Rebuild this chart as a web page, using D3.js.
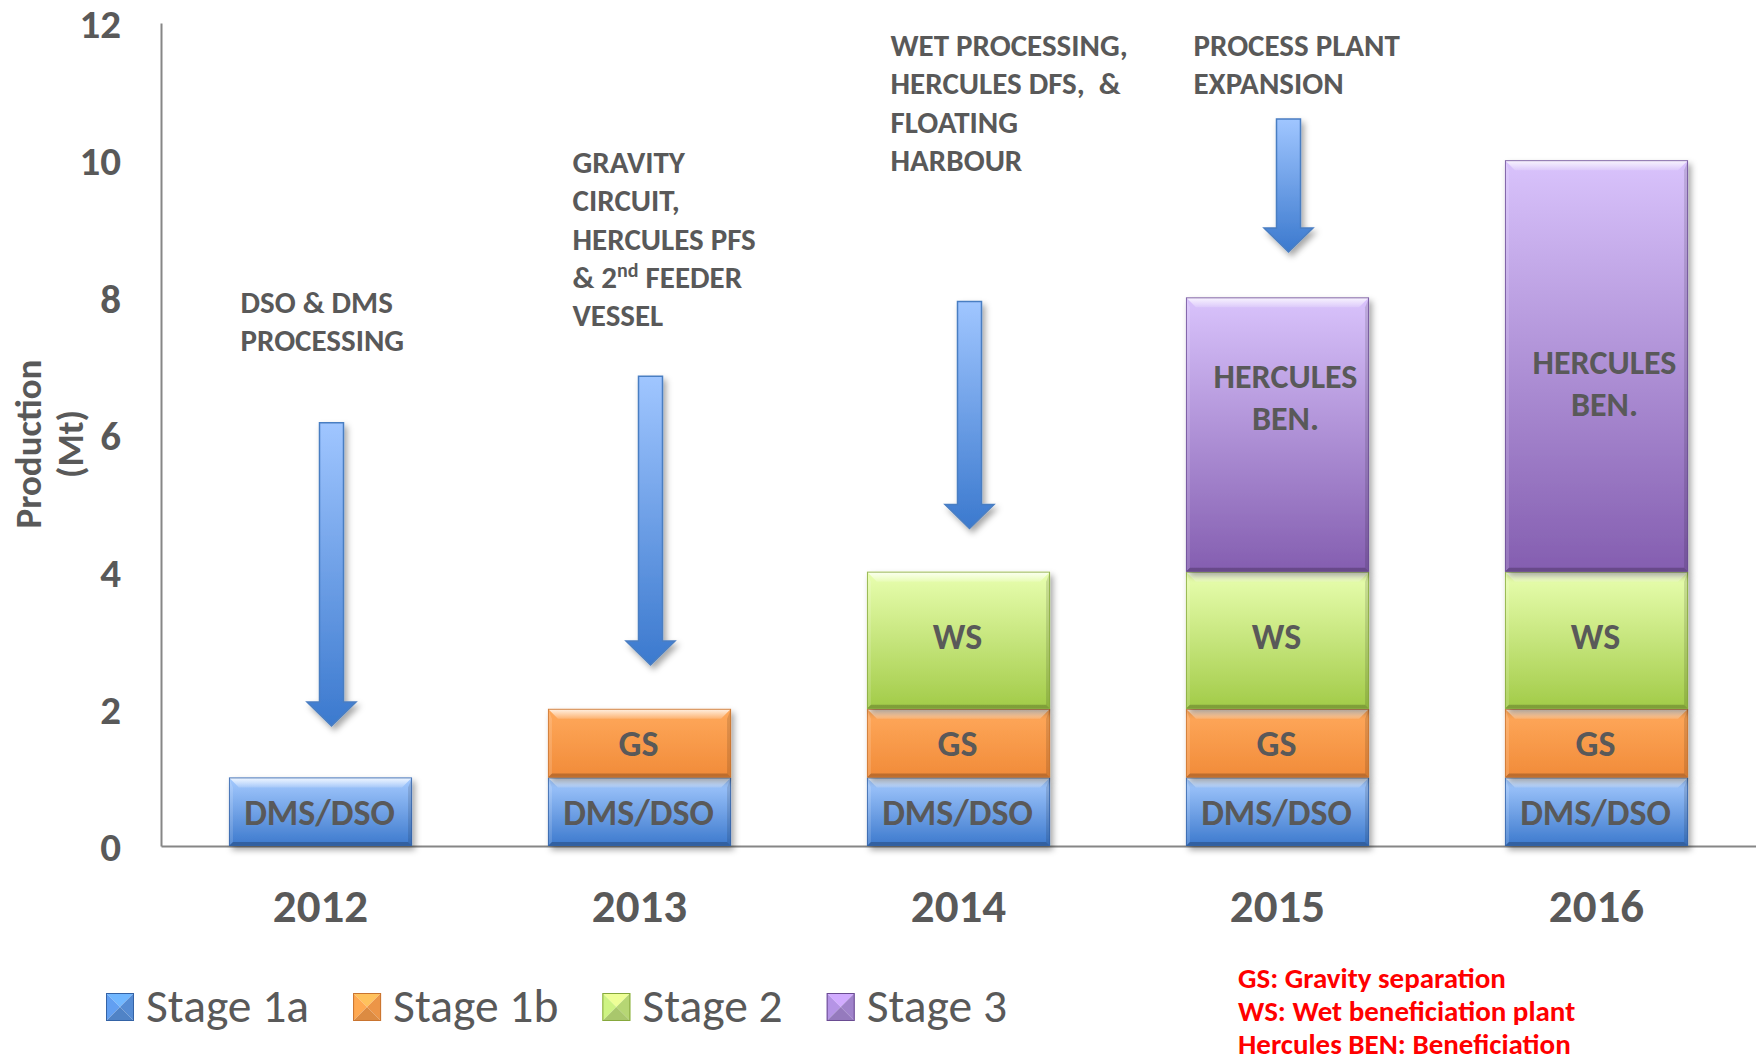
<!DOCTYPE html>
<html><head><meta charset="utf-8">
<script src="https://cdn.jsdelivr.net/npm/d3@7"></script>
<style>
html,body{margin:0;padding:0;background:#fff;}
svg{display:block;}
text{font-family: Carlito, Calibri, Lato, sans-serif; white-space: pre;}
</style></head><body>
<svg id="chart" width="1756" height="1063"></svg>
<script>
// ---------------- data ----------------
const years = ["2012", "2013", "2014", "2015", "2016"];
const seriesNames = ["Stage 1a", "Stage 1b", "Stage 2", "Stage 3"];
const stage1a = [1, 1, 1, 1, 1];
const stage1b = [0, 1, 1, 1, 1];
const stage2 = [0, 0, 2, 2, 2];
const stage3 = [0, 0, 0, 4, 6];
const segmentLabels = ["DMS/DSO", "GS", "WS", "HERCULES BEN."];
const yTicks = [0, 2, 4, 6, 8, 10, 12];
const yTitle = ["Production", "(Mt)"];

const annotationYears = ["2012", "2013", "2014", "2015"];
const annotationLines = [
  ["DSO & DMS", "PROCESSING"],
  ["GRAVITY", "CIRCUIT,", "HERCULES PFS", "& 2{nd} FEEDER", "VESSEL"],
  ["WET PROCESSING,", "HERCULES DFS,  &", "FLOATING", "HARBOUR"],
  ["PROCESS PLANT", "EXPANSION"]
];
const annotationTopValue = [7.77, 9.81, 11.52, 11.52];
const arrowFrom = [6.17, 6.85, 7.94, 10.6];
const arrowTo = [1.75, 2.64, 4.63, 8.66];
const stage3LabelValue = [null, null, null, 6.55, 6.75];
const noteLines = ["GS: Gravity separation", "WS: Wet beneficiation plant", "Hercules BEN: Beneficiation"];

// ---------------- layout / style ----------------
const plot = {left: 161, right: 1756, top: 23, bottom: 846};
const textGrey = "#595959";
const FONT = "Carlito, Calibri, Lato, sans-serif";
const palette = {
  "Stage 1a": {top: "#A6CBFF", bottom: "#3C79CD", border: "#3463A6", base: "#5B94E0"},
  "Stage 1b": {top: "#FFA95C", bottom: "#F18B39", border: "#C9742F", base: "#F99D4B"},
  "Stage 2":  {top: "#E9FFB0", bottom: "#A2CB48", border: "#86A83C", base: "#C0E27A"},
  "Stage 3":  {top: "#D9C3FC", bottom: "#845EB0", border: "#6A4C92", base: "#A98AD6"}
};
const annotationDx = [-80, -67, -68, -84];
const annotationLineH = 38.3;
const arrowDx = 11;

const svg = d3.select("#chart");
const defs = svg.append("defs");

seriesNames.forEach((s, i) => {
  const g = defs.append("linearGradient").attr("id", "grad" + i)
    .attr("x1", 0).attr("y1", 0).attr("x2", 0).attr("y2", 1);
  g.append("stop").attr("offset", "0%").attr("stop-color", palette[s].top);
  g.append("stop").attr("offset", "100%").attr("stop-color", palette[s].bottom);
});
const ag = defs.append("linearGradient").attr("id", "arrowGrad")
  .attr("x1", 0).attr("y1", 0).attr("x2", 0).attr("y2", 1);
ag.append("stop").attr("offset", "0%").attr("stop-color", "#A0C6FF");
ag.append("stop").attr("offset", "100%").attr("stop-color", "#3B79CE");
const tg = defs.append("linearGradient").attr("id", "topBevel")
  .attr("x1", 0).attr("y1", 0).attr("x2", 0).attr("y2", 1);
tg.append("stop").attr("offset", "0%").attr("stop-color", "#fff").attr("stop-opacity", 0.85);
tg.append("stop").attr("offset", "100%").attr("stop-color", "#fff").attr("stop-opacity", 0.15);

const f = defs.append("filter").attr("id", "shadow")
  .attr("x", "-20%").attr("y", "-20%").attr("width", "150%").attr("height", "150%");
f.append("feDropShadow").attr("dx", 3).attr("dy", 4).attr("stdDeviation", 3)
  .attr("flood-color", "#000").attr("flood-opacity", 0.35);

// ---------------- scales ----------------
const x = d3.scaleBand().domain(years).range([plot.left, plot.right])
  .paddingInner(0.426).paddingOuter(0.213);
const y = d3.scaleLinear().domain([0, 12]).range([plot.bottom, plot.top]);

// ---------------- axes ----------------
const yAxis = svg.append("g").attr("transform", `translate(${plot.left},0)`)
  .call(d3.axisLeft(y).tickValues(yTicks).tickSize(0).tickSizeOuter(0).tickPadding(40));
yAxis.select(".domain").attr("stroke", "#868686").attr("stroke-width", 2);
yAxis.selectAll("text").attr("fill", textGrey).attr("font-size", 41).attr("font-weight", "bold")
  .attr("dy", "0.36em").style("font-family", FONT);

const xAxis = svg.append("g").attr("transform", `translate(0,${plot.bottom})`)
  .call(d3.axisBottom(x).tickSize(0).tickSizeOuter(0).tickPadding(43));
xAxis.select(".domain").attr("stroke", "#868686").attr("stroke-width", 2);
xAxis.selectAll("text").attr("fill", textGrey).attr("font-size", 47).attr("font-weight", "bold")
  .style("font-family", FONT);

// y title
const yt = svg.append("text")
  .attr("transform", `translate(41,444) rotate(-90)`)
  .attr("text-anchor", "middle").attr("fill", textGrey)
  .attr("font-size", 37).attr("font-weight", "bold");
yt.append("tspan").attr("x", 0).attr("y", 0).text(yTitle[0]);
yt.append("tspan").attr("x", 0).attr("y", 42).text(yTitle[1]);

// ---------------- bars ----------------
const rows = years.map((yr, i) => ({
  year: yr, "Stage 1a": stage1a[i], "Stage 1b": stage1b[i], "Stage 2": stage2[i], "Stage 3": stage3[i]
}));
const stacked = d3.stack().keys(seriesNames)(rows);
const bw = x.bandwidth();

const barsG = svg.append("g");
stacked.forEach((layer, k) => {
  const col = palette[layer.key];
  layer.forEach((d) => {
    if (d[1] - d[0] <= 0) return;
    const x0 = x(d.data.year), y0 = y(d[1]), h = y(d[0]) - y(d[1]), w = bw;
    const g = barsG.append("g").attr("filter", "url(#shadow)");
    g.append("rect").attr("x", x0).attr("y", y0).attr("width", w).attr("height", h)
      .attr("fill", `url(#grad${k})`);
    const b = 10, bs = 4, bb = 4;
    g.append("polygon").attr("points",
      `${x0},${y0} ${x0 + w},${y0} ${x0 + w - b},${y0 + b} ${x0 + b},${y0 + b}`)
      .attr("fill", "url(#topBevel)");
    g.append("polygon").attr("points",
      `${x0},${y0} ${x0 + bs},${y0 + b} ${x0 + bs},${y0 + h - bb} ${x0},${y0 + h}`)
      .attr("fill", "#fff").attr("fill-opacity", 0.15);
    g.append("polygon").attr("points",
      `${x0 + w},${y0} ${x0 + w},${y0 + h} ${x0 + w - bs},${y0 + h - bb} ${x0 + w - bs},${y0 + b}`)
      .attr("fill", "#000").attr("fill-opacity", 0.12);
    g.append("polygon").attr("points",
      `${x0},${y0 + h} ${x0 + w},${y0 + h} ${x0 + w - bs},${y0 + h - bb} ${x0 + bs},${y0 + h - bb}`)
      .attr("fill", "#000").attr("fill-opacity", 0.22);
    g.append("rect").attr("x", x0 + 0.5).attr("y", y0 + 0.5).attr("width", w - 1).attr("height", h - 1)
      .attr("fill", "none").attr("stroke", col.border).attr("stroke-width", 1).attr("stroke-opacity", 0.8);
  });
});

// segment labels
stacked.forEach((layer, k) => {
  layer.forEach((d, i) => {
    if (d[1] - d[0] <= 0) return;
    const cx = x(d.data.year) + bw / 2;
    if (k === 3) {
      const words = segmentLabels[k].split(" ");
      const cy = y(stage3LabelValue[i]);
      const t = svg.append("text").attr("text-anchor", "middle").attr("fill", textGrey)
        .attr("font-size", 34).attr("font-weight", "bold");
      words.forEach((wd, j) => {
        t.append("tspan").attr("x", cx + 8).attr("y", cy + (j - 0.5) * 41.5 + 12).text(wd);
      });
    } else {
      const cy = (y(d[0]) + y(d[1])) / 2 + (k === 2 ? -4 : 0);
      svg.append("text").attr("x", cx - 1).attr("y", cy + 13)
        .attr("text-anchor", "middle").attr("fill", textGrey)
        .attr("font-size", 36).attr("font-weight", "bold").text(segmentLabels[k]);
    }
  });
});

// ---------------- arrows ----------------
annotationYears.forEach((yr, i) => {
  const cx = x(yr) + bw / 2 + arrowDx;
  const top = y(arrowFrom[i]), tip = y(arrowTo[i]);
  const hs = tip - 24, sw = 12, hw = 24.5;
  const p = d3.path();
  p.moveTo(cx - sw, top); p.lineTo(cx + sw, top); p.lineTo(cx + sw, hs);
  p.lineTo(cx + hw, hs); p.lineTo(cx, tip); p.lineTo(cx - hw, hs);
  p.lineTo(cx - sw, hs); p.closePath();
  svg.append("path").attr("d", p.toString()).attr("fill", "url(#arrowGrad)")
    .attr("stroke", "#4A7EC2").attr("stroke-width", 1.5).attr("filter", "url(#shadow)");
});

// ---------------- annotations ----------------
annotationYears.forEach((yr, i) => {
  const tx = x(yr) + bw / 2 + annotationDx[i];
  const t = svg.append("text").attr("fill", textGrey).attr("font-size", 31).attr("font-weight", "bold");
  annotationLines[i].forEach((line, j) => {
    const ly = y(annotationTopValue[i]) + j * annotationLineH;
    const parts = line.split(/[{}]/);
    parts.forEach((part, m) => {
      const sp = t.append("tspan").text(part);
      if (m === 0) sp.attr("x", tx).attr("y", ly);
      if (m % 2 === 1) sp.attr("font-size", 20).attr("dy", -11);
      if (m > 0 && m % 2 === 0) sp.attr("dy", 11);
    });
  });
});

// ---------------- legend ----------------
const legend = svg.append("g");
let lx = 106;
seriesNames.forEach((s) => {
  const col = palette[s];
  const sz = 28, sy = 993;
  const c = d3.color(col.base);
  const cxm = lx + sz / 2, cym = sy + sz / 2;
  const tris = [
    [[lx, sy], [lx + sz, sy], [cxm, cym], c.brighter(0.6)],
    [[lx, sy], [lx, sy + sz], [cxm, cym], c.brighter(0.2)],
    [[lx + sz, sy], [lx + sz, sy + sz], [cxm, cym], c.darker(0.15)],
    [[lx, sy + sz], [lx + sz, sy + sz], [cxm, cym], c.darker(0.35)]
  ];
  tris.forEach(tr => {
    legend.append("polygon").attr("points", `${tr[0]} ${tr[1]} ${tr[2]}`).attr("fill", tr[3]);
  });
  legend.append("rect").attr("x", lx + 0.5).attr("y", sy + 0.5).attr("width", sz - 1).attr("height", sz - 1)
    .attr("fill", "none").attr("stroke", col.border).attr("stroke-width", 1);
  const t = legend.append("text").attr("x", lx + sz + 12).attr("y", 1022)
    .attr("fill", textGrey).attr("font-size", 47.5).text(s);
  lx = lx + sz + 12 + t.node().getComputedTextLength() + 44;
});

// ---------------- notes ----------------
noteLines.forEach((line, i) => {
  svg.append("text").attr("x", 1238).attr("y", 988 + i * 33)
    .attr("fill", "#FF0000").attr("font-size", 29).attr("font-weight", "bold").text(line);
});
</script>
</body></html>
